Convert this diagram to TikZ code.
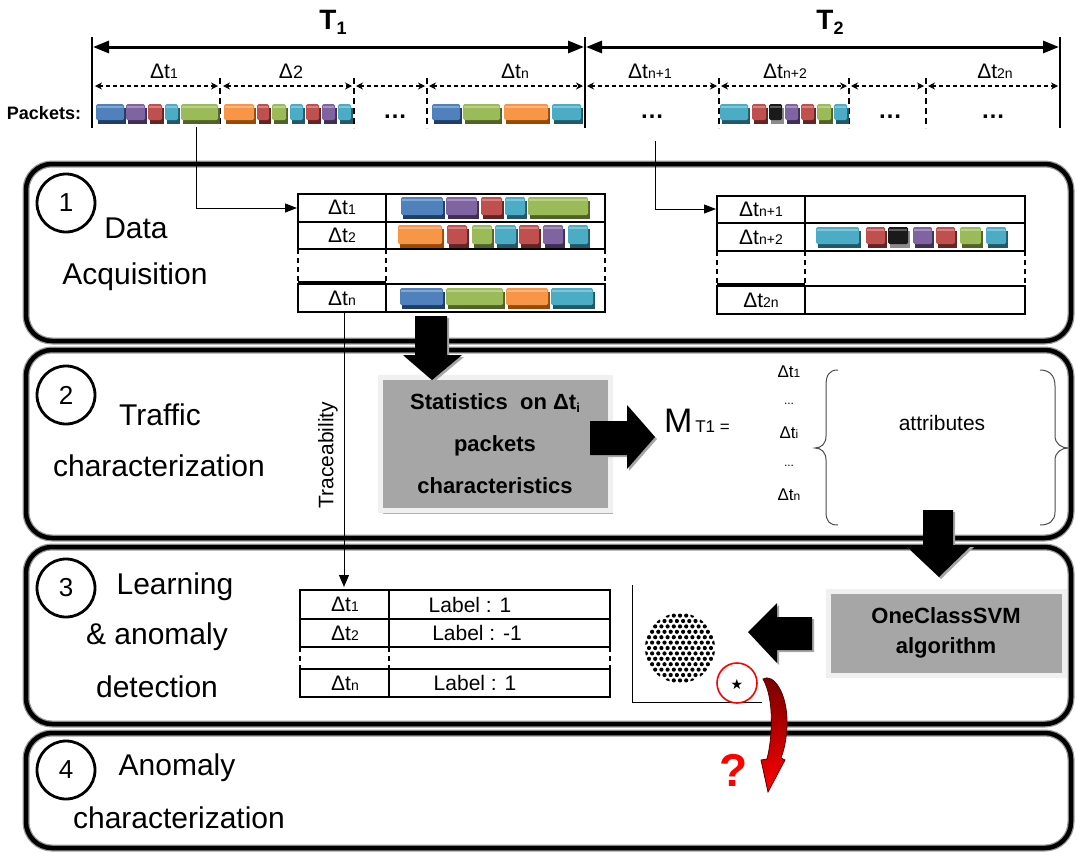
\documentclass[tikz,border=0pt]{standalone}
\usepackage{fontspec}
\setmainfont{Liberation Sans}
\newfontfamily\dejavu{DejaVu Sans}
\usetikzlibrary{arrows.meta,shadows}
\definecolor{pblue}{HTML}{4F81BD}\definecolor{pbluedk}{HTML}{1F3D66}
\definecolor{ppurple}{HTML}{8064A2}\definecolor{ppurpledk}{HTML}{3F2F55}
\definecolor{pred}{HTML}{C0504D}\definecolor{preddk}{HTML}{632523}
\definecolor{pcyan}{HTML}{4BACC6}\definecolor{pcyandk}{HTML}{215968}
\definecolor{pgreen}{HTML}{9BBB59}\definecolor{pgreendk}{HTML}{4F6228}
\definecolor{porange}{HTML}{F79646}\definecolor{porangedk}{HTML}{984807}
\definecolor{pblack}{HTML}{1A1A1A}\definecolor{pblackdk}{HTML}{8C8C8C}
\definecolor{boxgray}{HTML}{A6A6A6}
\newcommand\fs[1]{\fontsize{#1}{#1}\selectfont}
\newcommand\pkt[5]{%
  \fill[#5dk] (#1+2,#3+4) rectangle (#2+1,#4);
  \fill[#5, rounded corners=1.5pt] (#1,#3) rectangle (#2-1,#4-4);
  \fill[white, opacity=0.3] (#1+1,#3+1.5) rectangle (#2-2,#3+4);
}
\begin{document}
\begin{tikzpicture}[x=1pt,y=-1pt,
  stage/.style={draw=black, line width=4.5pt, rounded corners=26pt, preaction={draw=black!40, line width=7pt}},
  numc/.style={circle, draw, line width=2.8pt, minimum size=58pt, inner sep=0pt, font=\fs{26}},
  lbl/.style={font=\fs{30}},
  tab/.style={line width=1.3pt},
  tabd/.style={line width=1.3pt, dash pattern=on 5pt off 4pt},
  dl/.style={font=\fs{21}},
  vline/.style={line width=1.3pt},
  sepd/.style={line width=1.2pt, dash pattern=on 6pt off 4pt},
  tarrow/.style={line width=3pt, {Triangle[length=16pt,width=12pt]}-{Triangle[length=16pt,width=12pt]}},
  darrow/.style={line width=1.2pt, dash pattern=on 4pt off 3pt, {Stealth[length=7pt,width=7pt]}-{Stealth[length=7pt,width=7pt]}},
  conn/.style={line width=1pt, -{Triangle[length=12pt,width=9pt]}},
  graybox/.style={fill=boxgray, draw=black!6, line width=5pt, drop shadow={shadow xshift=3pt, shadow yshift=-3pt, fill=black!30, opacity=1}},
  barrow/.style={fill=black, drop shadow={shadow xshift=2pt, shadow yshift=-2pt, fill=black!35, opacity=1}},
  brace/.style={draw=black!70, line width=1pt},
  dots/.style={font=\bfseries\fs{24}}
]
\useasboundingbox (0,0) rectangle (1077,852);

% ---------------- timeline ----------------
\node[font=\bfseries\fs{28}] (T1) at (333,22) {T\raisebox{-5pt}{\fs{18}1}};
\node[font=\bfseries\fs{28}] (T2) at (830,22) {T\raisebox{-5pt}{\fs{18}2}};
\draw[vline] (92,37) -- (92,128);
\draw[vline] (585,37) -- (585,128);
\draw[vline] (1060,37) -- (1060,128);
\coordinate (t1a) at (93,47); \coordinate (t1b) at (584,47);
\coordinate (t2a) at (586,47); \coordinate (t2b) at (1059,47);
\draw[tarrow] (t1a) -- (t1b);
\draw[tarrow] (t2a) -- (t2b);

\node[dl] (l1) at (164,71) {Δt{\fs{14}1}};
\node[dl] (l2) at (291,71) {Δ{\fs{18}2}};
\node[dl] (ln) at (515,71) {Δt{\fs{14}n}};
\node[dl] (ln1) at (650,71) {Δt{\fs{14}n+1}};
\node[dl] (ln2) at (785,71) {Δt{\fs{14}n+2}};
\node[dl] (l2n) at (995,71) {Δt{\fs{14}2n}};

\foreach \a/\b in {95/218, 223/352, 356/425, 429/583, 587/717, 721/847, 851/924, 928/1058}
  \draw[darrow] (\a,86) -- (\b,86);
\foreach \x in {220,354,427,719,849,926}
  \draw[sepd] (\x,78) -- (\x,128);

\node[font=\bfseries\fs{18}] (pk) at (44,113) {Packets:};
\pkt{96}{125}{104}{124}{pblue}\pkt{126}{146}{104}{124}{ppurple}\pkt{148}{163}{104}{124}{pred}
\pkt{165}{179}{104}{124}{pcyan}\pkt{181}{219}{104}{124}{pgreen}
\pkt{224}{255}{104}{124}{porange}\pkt{257}{270}{104}{124}{pred}\pkt{272}{287}{104}{124}{pgreen}
\pkt{290}{304}{104}{124}{pcyan}\pkt{306}{320}{104}{124}{pred}\pkt{322}{336}{104}{124}{ppurple}
\pkt{338}{352}{104}{124}{pcyan}
\pkt{432}{461}{104}{124}{pblue}\pkt{463}{501}{104}{124}{pgreen}\pkt{504}{549}{104}{124}{porange}
\pkt{552}{582}{104}{124}{pcyan}
\pkt{720}{749}{104}{124}{pcyan}\pkt{752}{767}{104}{124}{pred}\pkt{769}{783}{104}{124}{pblack}
\pkt{785}{799}{104}{124}{ppurple}\pkt{801}{815}{104}{124}{pred}\pkt{817}{832}{104}{124}{pgreen}
\pkt{834}{848}{104}{124}{pcyan}
\node[dots] (d1) at (395,117) {…};
\node[dots] (d2) at (652,117) {…};
\node[dots] (d3) at (890,117) {…};
\node[dots] (d4) at (993,117) {…};

% ---------------- stages ----------------
\draw[stage] (26,164) rectangle (1071,341);
\draw[stage] (26,350) rectangle (1071,538);
\draw[stage] (26,547) rectangle (1071,724);
\draw[stage] (26,733) rectangle (1071,848);

\node[numc] (c1) at (66,203) {1};
\node[numc] (c2) at (66,395) {2};
\node[numc] (c3) at (66,588) {3};
\node[numc] (c4) at (66,770) {4};
\node[lbl] (s1a) at (136,228) {Data};
\node[lbl] (s1b) at (135,277) {Acquisition};
\node[lbl] (s2a) at (160,415) {Traffic};
\node[lbl] (s2b) at (159,466) {characterization};
\node[lbl] (s3a) at (175,587) {Learning};
\node[lbl] (s3b) at (157,637) {\& anomaly};
\node[lbl] (s3c) at (157,687) {detection};
\node[lbl] (s4a) at (177,768) {Anomaly};
\node[lbl] (s4b) at (179,818) {characterization};

% ---------------- stage 1 tables ----------------
\draw[tab] (298,194) rectangle (605,222);
\draw[tab] (298,222) rectangle (605,249);
\draw[tab] (386,194) -- (386,249);
\draw[tabd] (298,249) -- (298,284);
\draw[tabd] (386,249) -- (386,284);
\draw[tabd] (605,249) -- (605,284);
\draw[tab] (298,282) -- (386,282);
\draw[tab] (298,284) rectangle (605,312);
\draw[tab] (386,284) -- (386,312);
\node[dl] (a1) at (342,207) {Δt{\fs{14}1}};
\node[dl] (a2) at (342,235) {Δt{\fs{14}2}};
\node[dl] (an) at (342,298) {Δt{\fs{14}n}};
\pkt{401}{444}{197}{219}{pblue}\pkt{446}{478}{197}{219}{ppurple}\pkt{481}{503}{197}{219}{pred}
\pkt{505}{526}{197}{219}{pcyan}\pkt{528}{589}{197}{219}{pgreen}
\pkt{398}{443}{225}{248}{porange}\pkt{447}{468}{225}{248}{pred}\pkt{472}{493}{225}{248}{pgreen}
\pkt{495}{517}{225}{248}{pcyan}\pkt{519}{540}{225}{248}{pred}\pkt{543}{564}{225}{248}{ppurple}
\pkt{568}{589}{225}{248}{pcyan}
\pkt{400}{444}{288}{309}{pblue}\pkt{446}{504}{288}{309}{pgreen}\pkt{506}{549}{288}{309}{porange}
\pkt{551}{594}{288}{309}{pcyan}

\draw[tab] (717,196) rectangle (1025,223);
\draw[tab] (717,223) rectangle (1025,251);
\draw[tab] (805,196) -- (805,251);
\draw[tabd] (717,251) -- (717,286);
\draw[tabd] (805,251) -- (805,286);
\draw[tabd] (1025,251) -- (1025,286);
\draw[tab] (717,284) -- (805,284);
\draw[tab] (717,286) rectangle (1025,314);
\draw[tab] (805,286) -- (805,314);
\node[dl] (b1) at (761,209) {Δt{\fs{14}n+1}};
\node[dl] (b2) at (761,237) {Δt{\fs{14}n+2}};
\node[dl] (bn) at (761,300) {Δt{\fs{14}2n}};
\pkt{816}{860}{227}{248}{pcyan}\pkt{866}{886}{227}{248}{pred}\pkt{888}{909}{227}{248}{pblack}
\pkt{913}{933}{227}{248}{ppurple}\pkt{936}{956}{227}{248}{pred}\pkt{960}{982}{227}{248}{pgreen}
\pkt{986}{1007}{227}{248}{pcyan}

\coordinate (p1) at (196,127); \coordinate (tab1in) at (297,208);
\coordinate (p2) at (655,141); \coordinate (tab2in) at (716,209);
\draw[conn] (p1) |- (tab1in);
\draw[conn] (p2) |- (tab2in);

% ---------------- stage 2 ----------------
\node[graybox, minimum width=230pt, minimum height=133pt, align=center, font=\bfseries\fs{22}] (stats) at (495,444)
  {Statistics\ \ on Δt\raisebox{-3pt}{\fs{13}i}\\[20pt]packets\\[20pt]characteristics};
\node[anchor=base west, inner sep=0pt] (M) at (664,432) {\fs{34}M\fs{17}\,T1 =};
\node[font=\fs{17}] (m1) at (789,372) {Δt{\fs{12}1}};
\node[font=\fs{12}] (md1) at (789,404) {...};
\node[font=\fs{17}] (mi) at (789,433) {Δt{\fs{12}i}};
\node[font=\fs{12}] (md2) at (789,466) {...};
\node[font=\fs{17}] (mn) at (789,495) {Δt{\fs{12}n}};
\node[font=\fs{21}] (attr) at (942,423) {attributes};
\draw[brace] (838,370) .. controls (829,370) and (826,375) .. (826,386) -- (826,436)
  .. controls (826,444) and (821,448) .. (815,448) .. controls (821,448) and (826,452) .. (826,460)
  -- (826,512) .. controls (826,521) and (829,525) .. (838,525);
\draw[brace] (1040,370) .. controls (1049,370) and (1055,375) .. (1055,386) -- (1055,436)
  .. controls (1055,444) and (1062,448) .. (1068,448) .. controls (1062,448) and (1055,452) .. (1055,460)
  -- (1055,512) .. controls (1055,521) and (1049,525) .. (1040,525);

% traceability
\coordinate (tr0) at (344,313); \coordinate (tr1) at (344,587);
\draw[line width=1pt, -{Triangle[length=12pt,width=10pt]}] (tr0) -- (tr1);
\node[rotate=90, font=\fs{21}] (trc) at (328,455) {Traceability};

% ---------------- stage 3 ----------------
\draw[tab] (300,590) rectangle (610,619);
\draw[tab] (300,619) rectangle (610,647);
\draw[tab] (389,590) -- (389,647);
\draw[tabd] (300,647) -- (300,669);
\draw[tabd] (389,647) -- (389,669);
\draw[tabd] (610,647) -- (610,669);
\draw[tab] (300,669) rectangle (610,697);
\draw[tab] (389,669) -- (389,697);
\node[dl] (e1) at (345,604) {Δt{\fs{14}1}};
\node[dl] (e2) at (345,633) {Δt{\fs{14}2}};
\node[dl] (en) at (345,683) {Δt{\fs{14}n}};
\node[dl] (f1) at (470,605) {Label : 1};
\node[dl] (f2) at (477,633) {Label : -1};
\node[dl] (fn) at (475,683) {Label : 1};

\node[graybox, minimum width=236pt, minimum height=84pt, align=center, font=\bfseries\fs{22}] (svm) at (946,633)
  {OneClassSVM\\[8pt]algorithm};

% scatter
\draw[line width=1pt] (632,585) -- (632,702) -- (762,702);
\begin{scope}
  \clip (680,648) circle (35pt);
  \foreach \j in {-7,...,7}
    \foreach \i in {-7,...,7}
      \fill ({680+\i*6.2+mod(\j,2)*3.1},{648+\j*5.4}) circle (2.1pt);
\end{scope}
\node[font=\dejavu\fs{14}] (star) at (737,684) {★};
\node[circle, draw=red, line width=1.6pt, minimum size=40pt, inner sep=0pt] (rc) at (737,683) {};
\shade[top color=red!45!black, bottom color=red, draw=red!35!black, line width=0.8pt]
  (763,679) .. controls (773,673) and (787,692) .. (787,722)
  .. controls (787,738) and (784,750) .. (781,758) -- (785,760) -- (768,792) -- (761,760) -- (767,759)
  .. controls (772,740) and (775,700) .. (763,679) -- cycle;
\node[text=red, font=\bfseries\fs{46}] (q) at (734,770) {?};

% ---------------- block arrows ----------------
\fill[barrow] (415,316) -- (447,316) -- (447,355) -- (462,355) -- (432,380) -- (403,355) -- (415,355) -- cycle;
\fill[barrow] (590,421) -- (627,421) -- (627,405) -- (655,437) -- (627,469) -- (627,455) -- (590,455) -- cycle;
\fill[barrow] (923,510) -- (953,510) -- (953,545) -- (972,545) -- (939,577) -- (905,545) -- (923,545) -- cycle;
\fill[barrow] (812,617) -- (777,617) -- (777,603) -- (748,632) -- (777,663) -- (777,650) -- (812,650) -- cycle;
\end{tikzpicture}
\end{document}
